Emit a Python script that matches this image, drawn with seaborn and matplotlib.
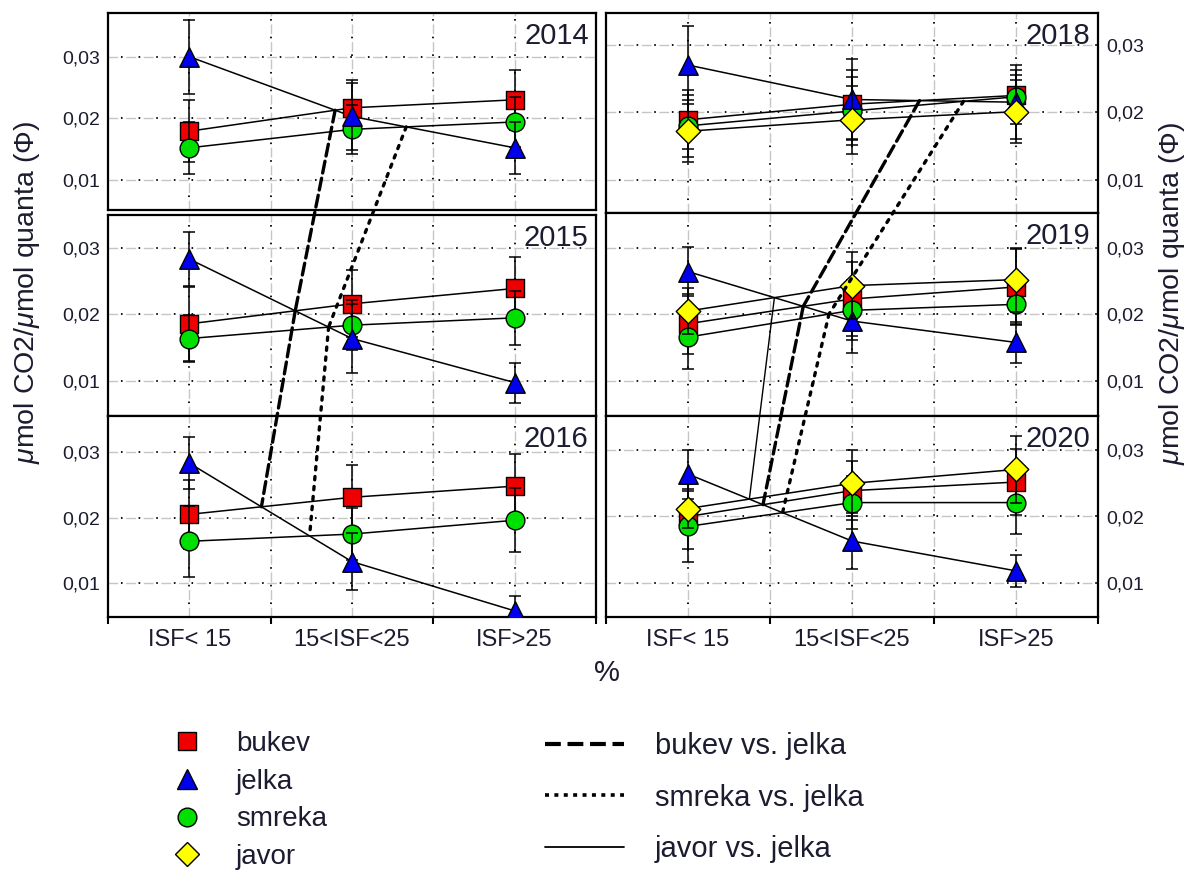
import numpy as np
import pandas as pd
import matplotlib
matplotlib.use("Agg")
import matplotlib.pyplot as plt
import seaborn as sns
from matplotlib.lines import Line2D
from matplotlib.patches import ConnectionPatch
from matplotlib.ticker import FuncFormatter

# ---------------------------------------------------------------- data
categories = ["ISF< 15", "15<ISF<25", "ISF>25"]
left_years = [2014, 2015, 2016]
right_years = [2018, 2019, 2020]
y_ticks = [0.01, 0.02, 0.03]

# mean quantum yield per ISF class, by year
bukev_mean = {2014: [0.0179, 0.0217, 0.0230], 2015: [0.0186, 0.0216, 0.0239],
              2016: [0.0205, 0.0231, 0.0248], 2018: [0.0189, 0.0212, 0.0225],
              2019: [0.0186, 0.0223, 0.0241], 2020: [0.0200, 0.0239, 0.0252]}
jelka_mean = {2014: [0.0300, 0.0203, 0.0152], 2015: [0.0283, 0.0164, 0.0098],
              2016: [0.0283, 0.0133, 0.0058], 2018: [0.0270, 0.0219, 0.0215],
              2019: [0.0264, 0.0190, 0.0158], 2020: [0.0264, 0.0163, 0.0118]}
smreka_mean = {2014: [0.0152, 0.0182, 0.0194], 2015: [0.0164, 0.0184, 0.0195],
               2016: [0.0164, 0.0175, 0.0196], 2018: [0.0180, 0.0202, 0.0223],
               2019: [0.0166, 0.0206, 0.0215], 2020: [0.0185, 0.0221, 0.0221]}
javor_mean = {2018: [0.0172, 0.0189, 0.0201], 2019: [0.0205, 0.0243, 0.0252],
              2020: [0.0212, 0.0250, 0.0271]}

# error bar half-widths
bukev_err = {2014: [0.0050, 0.0045, 0.0049], 2015: [0.0055, 0.0050, 0.0047],
             2016: [0.0052, 0.0049, 0.0049], 2018: [0.0044, 0.0051, 0.0030],
             2019: [0.0045, 0.0055, 0.0057], 2020: [0.0049, 0.0045, 0.0050]}
jelka_err = {2014: [0.0060, 0.0055, 0.0042], 2015: [0.0040, 0.0051, 0.0030],
             2016: [0.0040, 0.0043, 0.0022], 2018: [0.0058, 0.0060, 0.0055],
             2019: [0.0037, 0.0048, 0.0030], 2020: [0.0037, 0.0042, 0.0024]}
smreka_err = {2014: [0.0042, 0.0040, 0.0040], 2015: [0.0035, 0.0037, 0.0040],
              2016: [0.0054, 0.0040, 0.0049], 2018: [0.0046, 0.0051, 0.0040],
              2019: [0.0047, 0.0045, 0.0029], 2020: [0.0054, 0.0040, 0.0048]}
javor_err = {2018: [0.0046, 0.0050, 0.0047], 2019: [0.0034, 0.0050, 0.0048],
             2020: [0.0030, 0.0050, 0.0050]}

species = ["bukev", "jelka", "smreka", "javor"]
means = {"bukev": bukev_mean, "jelka": jelka_mean, "smreka": smreka_mean, "javor": javor_mean}
errs = {"bukev": bukev_err, "jelka": jelka_err, "smreka": smreka_err, "javor": javor_err}

# ---------------------------------------------------------------- style
sns.set_style("white")
plt.rcParams["font.family"] = ["Liberation Sans", "DejaVu Sans"]
plt.rcParams["mathtext.fontset"] = "custom"
plt.rcParams["mathtext.rm"] = "Liberation Sans"
plt.rcParams["mathtext.it"] = "Liberation Sans:italic"

TXT = "#1c1c30"
marker_style = {
    "bukev": dict(marker="s", color="#ee0000", size=13.5),
    "jelka": dict(marker="^", color="#0000ee", size=14.0),
    "smreka": dict(marker="o", color="#00e000", size=13.5),
    "javor": dict(marker="D", color="#ffff00", size=12.5),
}
# drawing order of the markers inside a panel
draw_order = ["bukev", "smreka", "jelka", "javor"]
pair_style = {
    "bukev": dict(lw=2.4, ls=(0, (3.6, 1.6))),
    "smreka": dict(lw=2.4, ls=(0, (1.0, 2.0))),
    "javor": dict(lw=1.0, ls="-"),
}

W, H = 1190, 872
fig = plt.figure(figsize=(W / 100, H / 100), dpi=100)


def add_axes(x0, x1, top, bottom):
    return fig.add_axes([x0 / W, 1 - bottom / H, (x1 - x0) / W, (bottom - top) / H])


# panel frames in pixels: (top, bottom)
left_rows = [(13, 210), (215, 416), (416, 617)]
right_rows = [(13, 213), (213, 416), (416, 617)]
left_ylims = [(0.0051, 0.0371), (0.0048, 0.0349), (0.00487, 0.03548)]
right_ylims = [(0.0051, 0.0347), (0.0048, 0.03516), (0.00484, 0.03516)]

grid_x = [0, 0.5, 1, 1.5, 2]
xpos = np.arange(len(categories))


def draw_grid(ax):
    for gy in y_ticks:
        ax.axhline(gy, color="#c6c6c6", lw=1.0, ls=(0, (7.0, 5.7)), zorder=0.5)
        ax.axhline(gy, color="black", lw=1.3, ls=(2.6, (0.9, 8.87)), zorder=0.6)
    for gx in grid_x:
        ax.axvline(gx, color="#c6c6c6", lw=1.0, ls=(0, (7.0, 5.7)), zorder=0.5)
        ax.axvline(gx, color="black", lw=1.3, ls=(2.6, (0.9, 8.87)), zorder=0.6)


def setup(ax, year, ylim, right, bottom):
    ax.set_xlim(-0.5, 2.5)
    ax.set_ylim(*ylim)
    ax.set_xticks(xpos)
    ax.set_xticks([-0.5, 0.5, 1.5, 2.5], minor=True)
    ax.set_yticks(y_ticks)
    ax.yaxis.set_major_formatter(FuncFormatter(lambda v, p: f"{v:.2f}".replace(".", ",")))
    ax.set_xlabel("")
    ax.set_ylabel("")
    if bottom:
        ax.set_xticklabels(categories, fontsize=17, color=TXT)
        ax.tick_params(axis="x", which="major", length=0, pad=9)
        ax.tick_params(axis="x", which="minor", length=5, width=1.5, direction="out",
                       color="black", bottom=True)
    else:
        ax.tick_params(axis="x", which="both", length=0, labelbottom=False)
    if right:
        ax.yaxis.tick_right()
    ax.tick_params(axis="y", length=0, labelsize=14, labelcolor=TXT, pad=6)
    for sp in ax.spines.values():
        sp.set_visible(True)
        sp.set_color("black")
        sp.set_linewidth(1.6)
    ax.text(0.985, 0.955, str(year), transform=ax.transAxes, ha="right", va="top",
            fontsize=21, color=TXT, zorder=20)
    draw_grid(ax)


def crossing(a, b):
    """First point where two piecewise-linear profiles intersect."""
    for i in range(len(a) - 1):
        d0, d1 = a[i] - b[i], a[i + 1] - b[i + 1]
        if d0 * d1 < 0:
            t = d0 / (d0 - d1)
            return (i + t, a[i] + t * (a[i + 1] - a[i]))
    return None


def draw_panel(ax, year):
    present = [s for s in draw_order if year in means[s]]
    rows = []
    for s in present:
        for k, cat in enumerate(categories):
            rows.append({"species": s, "pos": xpos[k], "value": means[s][year][k],
                         "err": errs[s][year][k]})
    df = pd.DataFrame(rows)
    sns.lineplot(data=df, x="pos", y="value", units="species", estimator=None,
                 color="black", lw=1.1, ax=ax, legend=False, zorder=2)
    for i, s in enumerate(present):
        d = df[df["species"] == s]
        ax.errorbar(d["pos"], d["value"], yerr=d["err"], fmt="none", ecolor="black",
                    elinewidth=1.1, capsize=4.5, capthick=1.1, zorder=3 + 2 * i)
        st = marker_style[s]
        sns.scatterplot(x=d["pos"], y=d["value"], marker=st["marker"], color=st["color"],
                        s=st["size"] ** 2, edgecolor="black", linewidth=1.0, ax=ax,
                        legend=False, zorder=4 + 2 * i)


columns = [
    (left_years, left_rows, left_ylims, 108, 596, False),
    (right_years, right_rows, right_ylims, 606, 1098, True),
]

for years, rows, ylims, x0, x1, right in columns:
    axes = []
    for j, (year, (top, bot), ylim) in enumerate(zip(years, rows, ylims)):
        ax = add_axes(x0, x1, top, bot)
        draw_panel(ax, year)
        setup(ax, year, ylim, right, bottom=(j == len(years) - 1))
        axes.append(ax)
    # link the crossing points of each species with jelka across consecutive years
    for s, style in pair_style.items():
        pts = []
        for ax, year in zip(axes, years):
            if year in means[s]:
                pts.append((ax, crossing(means[s][year], jelka_mean[year])))
            else:
                pts.append((ax, None))
        for (axA, pA), (axB, pB) in zip(pts[:-1], pts[1:]):
            if pA is None or pB is None:
                continue
            con = ConnectionPatch(xyA=pA, coordsA="data", axesA=axA,
                                  xyB=pB, coordsB="data", axesB=axB,
                                  color="black", lw=style["lw"], linestyle=style["ls"],
                                  zorder=30, clip_on=False)
            fig.add_artist(con)

# axis titles
ylab = r"$\mu$mol CO2/$\mu$mol quanta ($\Phi$)"
fig.text(27 / W, 1 - 292 / H, ylab, rotation=90, ha="center", va="center",
         fontsize=20.5, color=TXT)
fig.text(1172 / W, 1 - 293 / H, ylab, rotation=90, ha="center", va="center",
         fontsize=20.5, color=TXT)
fig.text(607 / W, 1 - 673 / H, "%", ha="center", va="center", fontsize=21, color=TXT)

# legends
mk_handles = [Line2D([], [], ls="none", marker=marker_style[s]["marker"],
                     markersize=marker_style[s]["size"],
                     markerfacecolor=marker_style[s]["color"],
                     markeredgecolor="black", markeredgewidth=1.0) for s in species]
fig.legend(mk_handles, species, loc="upper left", bbox_to_anchor=(173 / W, 1 - 731 / H),
           frameon=False, fontsize=20, handlelength=1.0, handletextpad=1.27,
           labelspacing=0.42, borderpad=0, borderaxespad=0, labelcolor=TXT)

pair_labels = ["bukev vs. jelka", "smreka vs. jelka", "javor vs. jelka"]
ln_handles = [
    Line2D([], [], color="black", lw=3.0, ls=(0, (3.8, 1.6))),
    Line2D([], [], color="black", lw=2.6, ls=(0, (1.1, 1.5))),
    Line2D([], [], color="black", lw=1.3, ls="-"),
]
fig.legend(ln_handles, pair_labels, loc="upper left", bbox_to_anchor=(545 / W, 1 - 732 / H),
           frameon=False, fontsize=21, handlelength=2.7, handletextpad=1.06,
           labelspacing=0.81, borderpad=0, borderaxespad=0, labelcolor=TXT)

fig.savefig("out.png", dpi=100)
